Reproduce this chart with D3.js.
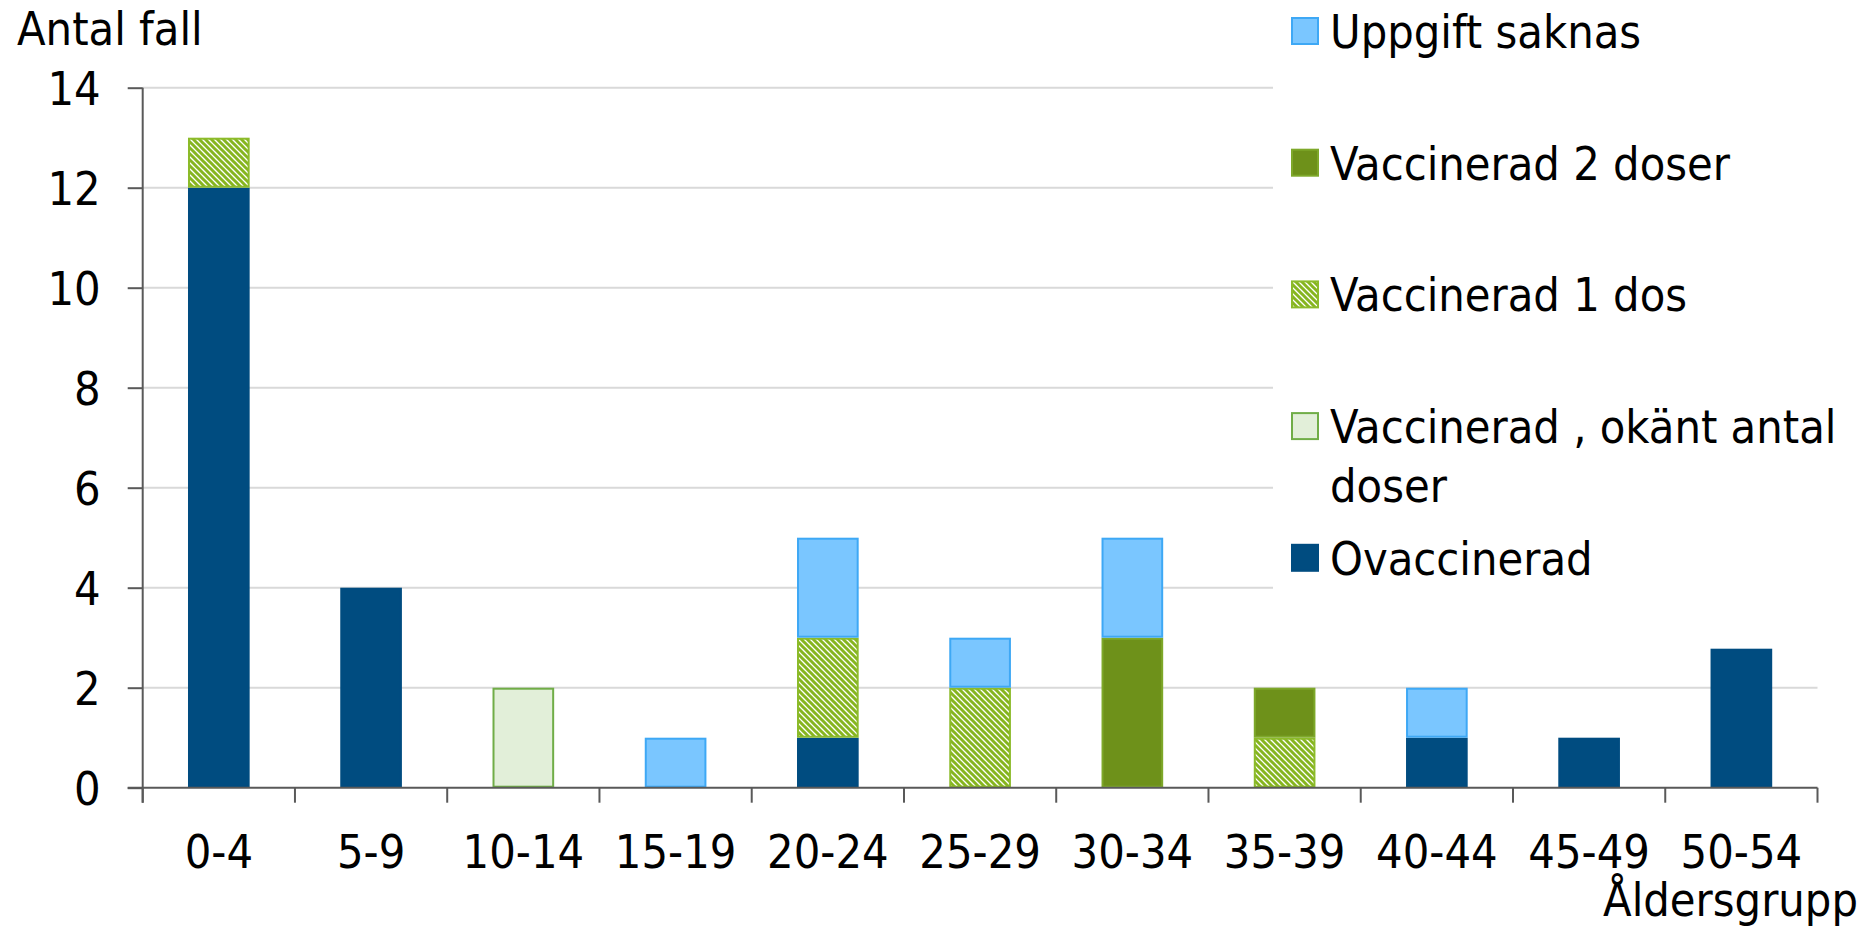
<!DOCTYPE html>
<html><head><meta charset="utf-8">
<script src="https://cdn.jsdelivr.net/npm/d3@7"></script>
<style>
html,body{margin:0;padding:0;background:#fff;}
svg text{font-family:"DejaVu Sans Condensed","DejaVu Sans",sans-serif;fill:#000;}
</style></head>
<body>
<svg id="chart" width="1865" height="927"></svg>
<script>
const categories = ["0-4","5-9","10-14","15-19","20-24","25-29","30-34","35-39","40-44","45-49","50-54"];
const ovaccinerad   = [12,4,0,0,1,0,0,0,1,1,2.78];
const okantDoser    = [0,0,2,0,0,0,0,0,0,0,0];
const enDos         = [1,0,0,0,2,2,0,1,0,0,0];
const tvaDoser      = [0,0,0,0,0,0,3,1,0,0,0];
const uppgiftSaknas = [0,0,0,1,2,1,2,0,1,0,0];
const yTicks = [0,2,4,6,8,10,12,14];
const seriesNames = ["Ovaccinerad","Vaccinerad , okänt antal doser","Vaccinerad 1 dos","Vaccinerad 2 doser","Uppgift saknas"];
const legendLabels = [["Uppgift saknas"],["Vaccinerad 2 doser"],["Vaccinerad 1 dos"],["Vaccinerad , okänt antal","doser"],["Ovaccinerad"]];
const yTitle = "Antal fall";
const xTitle = "Åldersgrupp";

const FS = "46.5px";
const svg = d3.select("#chart");
const defs = svg.append("defs");
const pat = defs.append("pattern").attr("id","hatch").attr("patternUnits","userSpaceOnUse")
  .attr("width",6).attr("height",6);
pat.append("rect").attr("width",6).attr("height",6).attr("fill","#fff");
pat.append("path").attr("d","M-1.5,1.5 L1.5,-1.5 M0,6 L6,0 M4.5,7.5 L7.5,4.5").attr("transform","scale(-1,1) translate(-6,0)")
  .attr("stroke","#86b51f").attr("stroke-width",3);

const styles = {
  "Ovaccinerad": {fill:"#004c80", stroke:"#004c80"},
  "Vaccinerad , okänt antal doser": {fill:"#e2efd9", stroke:"#70ad47"},
  "Vaccinerad 1 dos": {fill:"url(#hatch)", stroke:"#8cbb2a"},
  "Vaccinerad 2 doser": {fill:"#6e911a", stroke:"#7ea82a"},
  "Uppgift saknas": {fill:"#7ac6ff", stroke:"#3ea8f5"}
};

const x0 = 142.7, x1 = 1817.5, yBase = 787.7, yTop = 87.7;
const x = d3.scaleBand().domain(categories).range([x0,x1]).padding(0);
const y = d3.scaleLinear().domain([0,14]).range([yBase,yTop]);
const barW = x.bandwidth()*0.405;

const rows = categories.map((c,i)=>({cat:c,
  "Ovaccinerad":ovaccinerad[i],
  "Vaccinerad , okänt antal doser":okantDoser[i],
  "Vaccinerad 1 dos":enDos[i],
  "Vaccinerad 2 doser":tvaDoser[i],
  "Uppgift saknas":uppgiftSaknas[i]}));
const stacked = d3.stack().keys(seriesNames)(rows);

// gridlines
svg.append("g").selectAll("line").data(yTicks.filter(d=>d>0)).join("line")
  .attr("x1",x0).attr("x2",x1).attr("y1",d=>y(d)).attr("y2",d=>y(d))
  .attr("stroke","#d9d9d9").attr("stroke-width",2);

// bars
const gBars = svg.append("g");
stacked.forEach(s=>{
  const st = styles[s.key];
  gBars.append("g").selectAll("rect").data(s.filter(d=>d[1]-d[0]>0)).join("rect")
    .attr("x",d=>x(d.data.cat)+(x.bandwidth()-barW)/2+1)
    .attr("width",barW-2)
    .attr("y",d=>y(d[1])+1)
    .attr("height",d=>y(d[0])-y(d[1])-2)
    .attr("fill",st.fill).attr("stroke",st.stroke).attr("stroke-width",2);
});

// legend background
svg.append("rect").attr("x",1273).attr("y",0).attr("width",1865-1273).attr("height",630).attr("fill","#fff");

// y axis
const yAxis = svg.append("g").attr("transform",`translate(${x0},0)`)
  .call(d3.axisLeft(y).tickValues(yTicks).tickSize(15).tickPadding(27).tickSizeOuter(0));
yAxis.select(".domain").attr("stroke","#595959").attr("stroke-width",2)
  .attr("d",`M0,${yTop}V${yBase+15}`);
yAxis.selectAll(".tick line").attr("stroke","#595959").attr("stroke-width",2);
yAxis.selectAll("text").style("font-size",FS).attr("dy","0.36em");

// x axis
const xAxis = svg.append("g").attr("transform",`translate(0,${yBase})`)
  .call(d3.axisBottom(x).tickSize(0).tickPadding(47));
xAxis.select(".domain").attr("stroke","#595959").attr("stroke-width",2)
  .attr("d",`M${x0-15},0H${x1}`);
xAxis.selectAll("text").style("font-size",FS);
svg.append("g").selectAll("line").data(categories.map(c=>x(c)).concat([x1])).join("line")
  .attr("x1",d=>d).attr("x2",d=>d).attr("y1",yBase).attr("y2",yBase+15)
  .attr("stroke","#595959").attr("stroke-width",2);
svg.selectAll(".domain").attr("fill","none");
svg.selectAll("g[font-family]").attr("font-family",null).attr("font-size",null);

// titles
svg.append("text").attr("x",17).attr("y",45).style("font-size",FS).text(yTitle);
svg.append("text").attr("x",1858).attr("y",916).attr("text-anchor","end").style("font-size",FS).text(xTitle);

// legend
const legendKeys = ["Uppgift saknas","Vaccinerad 2 doser","Vaccinerad 1 dos","Vaccinerad , okänt antal doser","Ovaccinerad"];
const lg = svg.append("g");
legendKeys.forEach((k,i)=>{
  const cy = 31 + i*131.7;
  const st = styles[k];
  lg.append("rect").attr("x",1292).attr("y",cy-13).attr("width",26).attr("height",26)
    .attr("fill",st.fill).attr("stroke",st.stroke).attr("stroke-width",2);
  const t = lg.append("text").attr("x",1330).attr("y",cy+17).style("font-size",FS);
  legendLabels[i].forEach((line,j)=>{
    t.append("tspan").attr("x",1330).attr("dy",j===0?0:59).text(line);
  });
});
</script>
</body></html>
